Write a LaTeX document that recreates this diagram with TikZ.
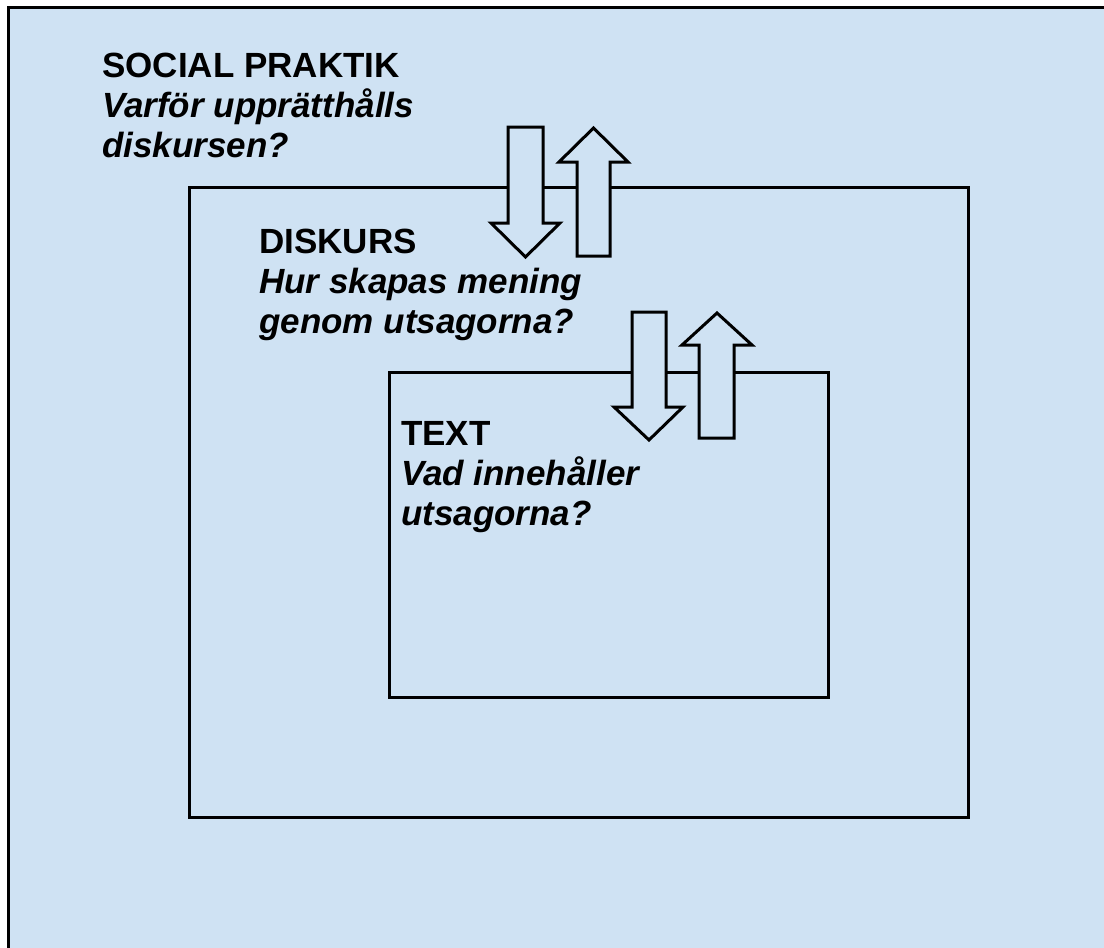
\documentclass[tikz,border=0pt]{standalone}
\usepackage{fontspec}
\setmainfont{Liberation Sans}
\definecolor{paleblue}{RGB}{207,226,243}
\tikzset{
  levelbox/.style={draw, line width=3pt, fill=paleblue, inner sep=0pt},
  blockarrow/.style={draw, line width=3pt, fill=paleblue, line join=miter},
  heading/.style={anchor=base west, align=left, inner sep=0pt, font=\fontsize{35}{40}\selectfont},
}
\begin{document}
\begin{tikzpicture}[x=1pt, y=-1pt]
%		    \draw[help lines] (0,0) grid (1104,948);
			\useasboundingbox (0,0) rectangle (1104,948);
			\clip (0,0) rectangle (1104,948);
			\fill[white] (0,0) rectangle (1104,948);
			\draw[line width=3pt, fill=paleblue] (8,7) rectangle (1130,970);
			\node[levelbox, minimum width=779pt, minimum height=630pt] (diskurs) at (578.5,502) {};
			\node[levelbox, minimum width=439pt, minimum height=325pt] (text) at (608.5,534.5) {};
			% arrows between social praktik and diskurs
			\draw[blockarrow] (508,127) -- (543,127) -- (543,223) -- (560,223) -- (525.5,257) -- (491,223) -- (508,223) -- cycle;
			\draw[blockarrow] (577,256) -- (610,256) -- (610,162) -- (628,162) -- (593.5,128) -- (559,162) -- (577,162) -- cycle;
			% arrows between diskurs and text
			\draw[blockarrow] (632,312) -- (666,312) -- (666,407) -- (683,407) -- (649,440) -- (614,407) -- (632,407) -- cycle;
			\draw[blockarrow] (699,438) -- (734,438) -- (734,345) -- (752,345) -- (717,313) -- (682,345) -- (699,345) -- cycle;
			% labels (base anchor = last line)
			\node[heading] (praktiklabel) at (102,157) {\textbf{SOCIAL PRAKTIK}\\ \textbf{\textit{Varför upprätthålls}}\\ \textbf{\textit{diskursen?}}};
			\node[heading] (diskurslabel) at (259,333) {\textbf{DISKURS}\\ \textbf{\textit{Hur skapas mening}}\\ \textbf{\textit{genom utsagorna?}}};
			\node[heading] (textlabel) at (401,525) {\textbf{TEXT}\\ \textbf{\textit{Vad innehåller}}\\ \textbf{\textit{utsagorna?}}};
		\end{tikzpicture}
\end{document}
